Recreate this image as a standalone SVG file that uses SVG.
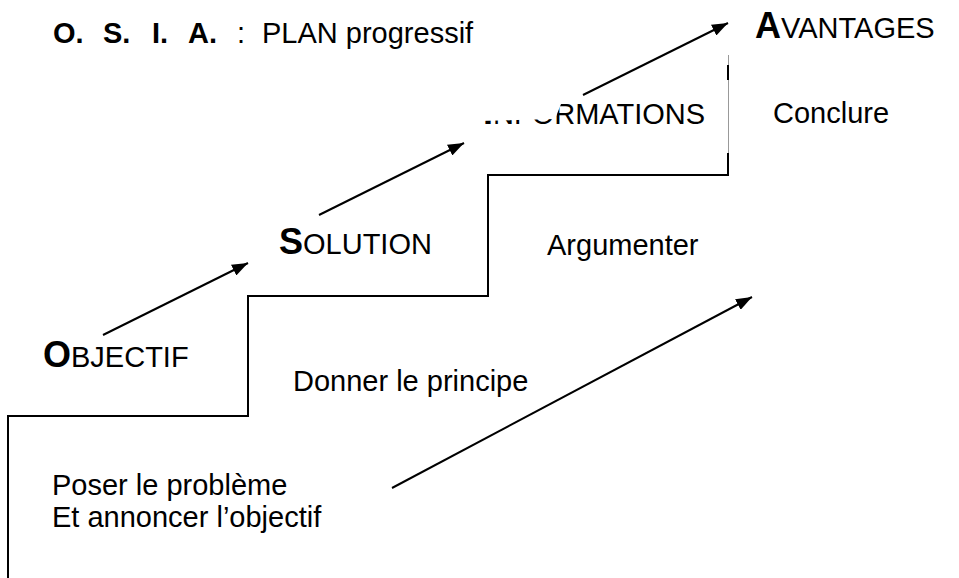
<svg xmlns="http://www.w3.org/2000/svg" width="959" height="578" viewBox="0 0 959 578">
<style>
text{font-family:"Liberation Sans",Arial,sans-serif;fill:#000;font-size:29px}
.b{font-weight:bold}
.big{font-weight:bold;font-size:36px}
.step{fill:none;stroke:#000;stroke-width:2}
.thin{fill:none;stroke:#999;stroke-width:1}
.arr{fill:none;stroke:#000;stroke-width:2;marker-end:url(#ah)}
</style>
<defs>
<marker id="ah" viewBox="0 0 16 12" refX="16" refY="6" markerWidth="16" markerHeight="12" markerUnits="userSpaceOnUse" orient="auto">
<path d="M0,0 L16,6 L0,12 Z" fill="#000"/>
</marker>
</defs>
<rect width="959" height="578" fill="#fff"/>
<g id="title">
<text x="53" y="43" class="b">O.</text>
<text x="103" y="43" class="b">S.</text>
<text x="152" y="43" class="b">I.</text>
<text x="188" y="43" class="b">A.</text>
<text x="237" y="43">:</text>
<text x="262" y="43">PLAN progressif</text>
</g>
<g id="staircase">
<path class="step" d="M8,578 V416 H248 V296 H488 V175 H728 V153"/>
<path class="step" d="M728,80 V65"/>
<path class="thin" d="M728.5,153 V80 M728.5,65 V55"/>
</g>
<g id="connectors">
<line class="arr" x1="103" y1="335" x2="248" y2="263"/>
<line class="arr" x1="319" y1="215" x2="464" y2="143"/>
<line class="arr" x1="583" y1="95" x2="728" y2="23"/>
<line class="arr" x1="392" y1="488" x2="752" y2="297"/>
</g>
<g id="node-objectif">
<text x="43" y="367"><tspan class="big">O</tspan>BJECTIF</text>
</g>
<g id="node-solution">
<text x="279" y="254"><tspan class="big">S</tspan>OLUTION</text>
</g>
<g id="node-informations">
<text x="483" y="124"><tspan class="big">I</tspan>NFORMATIONS</text>
<polygon points="478,92 561,92 561,104 555,119 478,121" fill="#fff"/>
</g>
<g id="node-avantages">
<text x="755" y="38"><tspan class="big">A</tspan>VANTAGES</text>
</g>
<g id="label-poser">
<text x="52" y="495">Poser le problème</text>
<text x="52" y="527">Et annoncer l’objectif</text>
</g>
<g id="label-donner">
<text x="293" y="391">Donner le principe</text>
</g>
<g id="label-argumenter">
<text x="547" y="255">Argumenter</text>
</g>
<g id="label-conclure">
<text x="773" y="123">Conclure</text>
</g>
</svg>
